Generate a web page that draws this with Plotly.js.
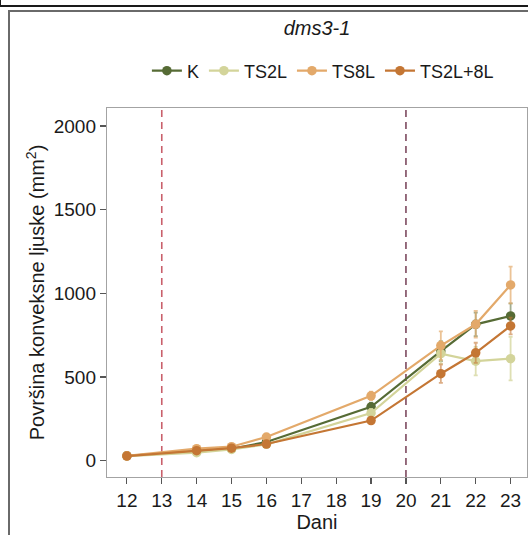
<!DOCTYPE html>
<html>
<head>
<meta charset="utf-8">
<script src="https://cdn.plot.ly/plotly-3.0.1.min.js"></script>
<style>
  html, body { margin: 0; padding: 0; background: #fff; }
  #wrap { position: relative; width: 528px; height: 535px; overflow: hidden; }
  #chart { width: 528px; height: 535px; }
  .frame { position: absolute; pointer-events: none; }
</style>
</head>
<body>
<div id="wrap">
  <div id="chart"></div>
  <div class="frame" style="left:0;top:5px;width:528px;height:2px;background:#1a1a1a;"></div>
  <div class="frame" style="left:0;top:0;width:1px;height:6px;background:#1a1a1a;"></div>
  <div class="frame" style="left:8px;top:10px;width:520px;height:2px;background:#6a6a6a;"></div>
  <div class="frame" style="left:8px;top:10px;width:2px;height:525px;background:#6a6a6a;"></div>
</div>
<script>
// Data
const days = [12, 14, 15, 16, 19, 21, 22, 23];
const seriesNames = ["K", "TS2L", "TS8L", "TS2L+8L"];
const valK      = [30, 55, 72, 112, 322, 655, 815, 865];
const valTS2L   = [28, 48, 68, 98, 285, 640, 595, 610];
const valTS8L   = [30, 72, 84, 142, 388, 688, 815, 1050];
const valTS2L8L = [28, 60, 75, 100, 240, 520, 645, 805];
const errK      = [5, 8, 8, 10, 25, 60, 70, 75];
const errTS2L   = [5, 8, 8, 10, 25, 60, 85, 130];
const errTS8L   = [5, 8, 10, 12, 25, 85, 80, 110];
const errTS2L8L = [5, 8, 8, 10, 15, 55, 60, 50];
const xTicks = [12, 13, 14, 15, 16, 17, 18, 19, 20, 21, 22, 23];
const yTicks = [0, 500, 1000, 1500, 2000];
const markerDays = [13, 20];

const colors = ["#566b35", "#d3d49a", "#e3a96a", "#c47634"];
const errColors = ["rgba(86,107,53,0.55)", "rgba(211,212,154,0.75)", "rgba(227,169,106,0.7)", "rgba(196,118,52,0.6)"];
const vals = [valK, valTS2L, valTS8L, valTS2L8L];
const errs = [errK, errTS2L, errTS8L, errTS2L8L];

const FONT = "Liberation Sans, Arial, Helvetica, sans-serif";

const traces = seriesNames.map((name, i) => ({
  type: "scatter",
  mode: "lines+markers",
  name: name,
  x: days,
  y: vals[i],
  line: { color: colors[i], width: 2.2 },
  marker: { color: colors[i], size: 9.5 },
  error_y: { type: "data", array: errs[i], visible: true, color: errColors[i], thickness: 1.8, width: 2 }
}));

const shapes = markerDays.map((d, i) => ({
  type: "line", xref: "x", yref: "paper", x0: d, x1: d, y0: 0, y1: 1,
  line: { color: i === 0 ? "#c9606b" : "#7d4a5f", width: 1.6, dash: "7px,5px" },
  layer: "below"
}));

const layout = {
  width: 528, height: 535,
  margin: { l: 107, r: 1, t: 108, b: 58 },
  paper_bgcolor: "#ffffff",
  plot_bgcolor: "#ffffff",
  font: { family: FONT, color: "#1a1a1a", size: 19 },
  title: {
    text: "<i>dms3-1</i>",
    font: { family: FONT, size: 20, color: "#1a1a1a" },
    x: 0.5, xref: "paper", xanchor: "center",
    y: 1 - 28 / 535, yref: "container", yanchor: "middle"
  },
  showlegend: true,
  legend: {
    orientation: "h",
    x: 0.095, xanchor: "left", xref: "paper",
    y: 1 - 71 / 535, yref: "container", yanchor: "middle",
    font: { family: FONT, size: 18, color: "#1a1a1a" },
    itemwidth: 30,
    tracegroupgap: 0,
    bgcolor: "rgba(0,0,0,0)"
  },
  xaxis: {
    range: [11.43, 23.47],
    tickmode: "array", tickvals: xTicks, ticktext: xTicks.map(String),
    showgrid: false, zeroline: false,
    showline: true, linecolor: "#a3a3a3", linewidth: 1.2, mirror: true,
    ticks: "outside", ticklen: 6, tickwidth: 1.2, tickcolor: "#555",
    tickfont: { family: FONT, size: 19, color: "#1a1a1a" },
    title: { text: "Dani", font: { family: FONT, size: 20, color: "#1a1a1a" }, standoff: 3 }
  },
  yaxis: {
    range: [-97, 2107],
    tickmode: "array", tickvals: yTicks, ticktext: yTicks.map(String),
    showgrid: false, zeroline: false,
    showline: true, linecolor: "#a3a3a3", linewidth: 1.2, mirror: true,
    ticks: "outside", ticklen: 6, tickwidth: 1.2, tickcolor: "#555",
    tickfont: { family: FONT, size: 19, color: "#1a1a1a" },
    title: { text: "Površina konveksne ljuske (mm<sup>2</sup>)", font: { family: FONT, size: 20, color: "#1a1a1a" }, standoff: 3 }
  },
  shapes: shapes
};

Plotly.newPlot("chart", traces, layout, { displayModeBar: false, staticPlot: true });
</script>
</body>
</html>
